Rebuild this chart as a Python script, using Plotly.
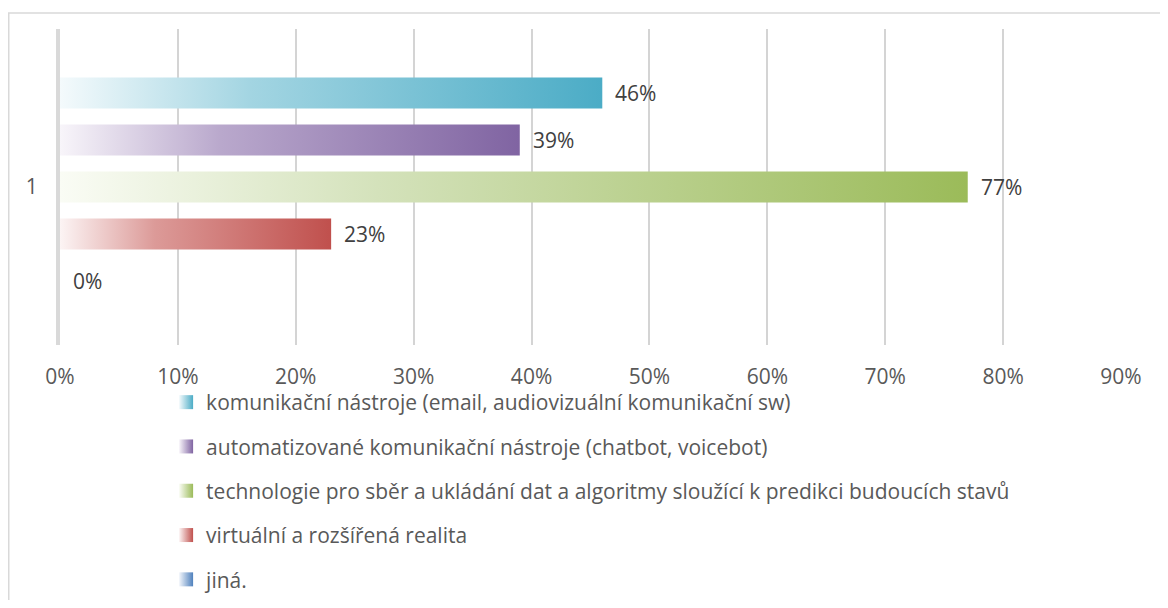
import plotly.graph_objects as go

# data
series = [
    'komunikační nástroje (email, audiovizuální komunikační sw)',
    'automatizované komunikační nástroje (chatbot, voicebot)',
    'technologie pro sběr a ukládání dat a algoritmy sloužící k predikci budoucích stavů',
    'virtuální a rozšířená realita',
    'jiná.',
]
values = [0.46, 0.39, 0.77, 0.23, 0.0]
category = '1'

colors = ['#4bacc6', '#8064a2', '#9bbb59', '#c0504d', '#4f81bd']
tints = ['#f4fafc', '#f8f5fa', '#fafcf5', '#fcf4f4', '#f3f6fb']
mids = ['#a3d5e2', '#b9a8cc', '#d4e2bb', '#dc9a98', '#a7c0de']

FONT = 'Open Sans'
TXT = '#595959'
half = 0.33  # half bar thickness in slot units

fig = go.Figure()

for i, (name, v) in enumerate(zip(series, values)):
    if v > 0:
        fig.add_trace(go.Scatter(
            x=[0, v, v, 0, 0],
            y=[i - half, i - half, i + half, i + half, i - half],
            mode='lines',
            line=dict(width=0),
            fill='toself',
            fillgradient=dict(
                type='horizontal',
                colorscale=[[0, tints[i]], [0.35, mids[i]], [1, colors[i]]],
            ),
            showlegend=False,
            hoverinfo='skip',
        ))
    # legend entry
    fig.add_trace(go.Scatter(
        x=[None], y=[None],
        mode='markers',
        name=name,
        legendgroup=name,
        marker=dict(symbol='square', size=14, color=tints[i],
                    gradient=dict(type='horizontal', color=colors[i])),
    ))
    fig.add_annotation(
        x=v, y=i, text='{:.0%}'.format(v),
        showarrow=False, xanchor='left', xshift=11,
        font=dict(family=FONT, size=21, color='#404040'),
    )

fig.update_layout(
    width=1152, height=592,
    margin=dict(l=52, r=39, t=21, b=255),
    paper_bgcolor='white', plot_bgcolor='white',
    font=dict(family=FONT, size=21, color=TXT),
    xaxis=dict(
        range=[0, 0.9], dtick=0.1, tickformat='.0%',
        showgrid=True, gridcolor='#d4d4d4', gridwidth=2,
        zeroline=False, showline=False, automargin=False,
        ticks='', ticklabelstandoff=17,
        tickfont=dict(size=21, color=TXT),
    ),
    yaxis=dict(
        range=[5.36, -1.36],
        tickvals=[2], ticktext=[category],
        showgrid=False, zeroline=False, automargin=False,
        showline=True, linecolor='#d9d9d9', linewidth=4,
        ticks='', ticklabelstandoff=14,
        tickfont=dict(size=21, color=TXT),
    ),
    legend=dict(
        xref='paper', yref='container',
        x=0.1, y=0.0, xanchor='left', yanchor='bottom',
        orientation='v', tracegroupgap=14,
        font=dict(family=FONT, size=21, color=TXT),
        bgcolor='rgba(0,0,0,0)',
    ),
    shapes=[dict(
        type='rect', xref='paper', yref='paper',
        x0=-0.0483, x1=1.3, y0=-2, y1=1.0506,
        line=dict(color='#d9d9d9', width=1.5),
        fillcolor='rgba(0,0,0,0)', layer='below',
    )],
)

fig.write_html('out.html')
